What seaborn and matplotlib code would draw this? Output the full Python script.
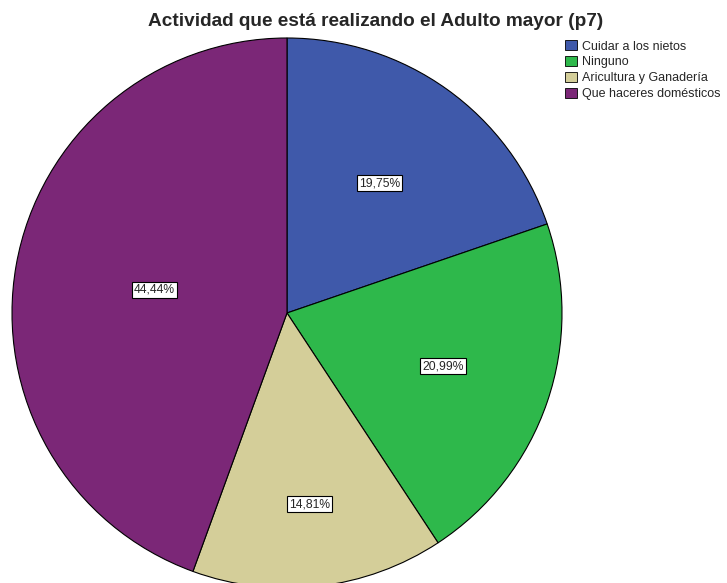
import matplotlib.pyplot as plt
import seaborn as sns
import numpy as np
from matplotlib.patches import Patch

# data
categorias = ['Cuidar a los nietos', 'Ninguno', 'Aricultura y Ganadería', 'Que haceres domésticos']
porcentajes = [19.75, 20.99, 14.81, 44.44]
colores = sns.color_palette(['#3F59AA', '#2EB84B', '#D4CE99', '#7B2777'])
titulo = 'Actividad que está realizando el Adulto mayor (p7)'

sns.set_style('white')
plt.rcParams['font.family'] = ['Liberation Sans', 'DejaVu Sans']

fig = plt.figure(figsize=(7.27, 5.83), dpi=100)
ax = fig.add_axes([12 / 727, -5 / 583, 550 / 727, 550 / 583])

wedges, _ = ax.pie(porcentajes, colors=colores, startangle=90, counterclock=False,
                   wedgeprops=dict(edgecolor='black', linewidth=0.8))
ax.set_xlim(-1, 1)
ax.set_ylim(-1, 1)
ax.set_aspect('equal')
ax.axis('off')

# etiquetas de porcentaje dentro de cada sector
dist = [0.58, 0.6, 0.7, 0.49]
for w, p, d in zip(wedges, porcentajes, dist):
    ang = np.deg2rad((w.theta1 + w.theta2) / 2)
    ax.text(d * np.cos(ang), d * np.sin(ang), f'{p:.2f}%'.replace('.', ','),
            ha='center', va='center', fontsize=8.7,
            bbox=dict(facecolor='white', edgecolor='black', linewidth=0.8, pad=1.5))

fig.text(376 / 727, 1 - 21 / 583, titulo, ha='center', va='center',
         fontsize=13.7, fontweight='bold')

handles = [Patch(facecolor=c, edgecolor='black', linewidth=0.6) for c in colores]
fig.legend(handles, categorias, loc='upper left', bbox_to_anchor=(565 / 727, 1 - 40 / 583),
           frameon=False, fontsize=9, handlelength=0.95, handleheight=0.9,
           handletextpad=0.4, labelspacing=0.27, borderpad=0, borderaxespad=0)

fig.savefig('out.png', dpi=100)
